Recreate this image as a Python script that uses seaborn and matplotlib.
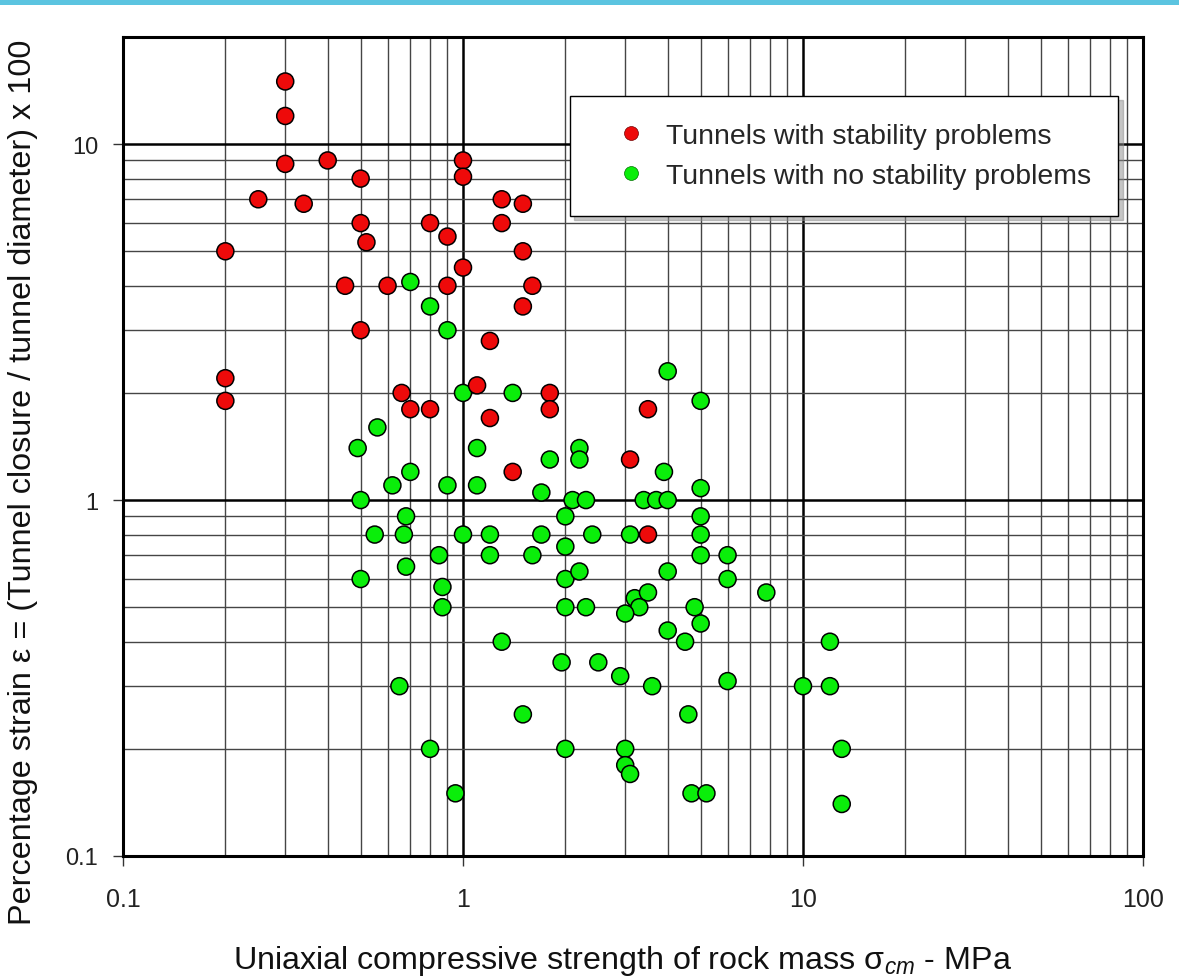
import numpy as np
import pandas as pd
import matplotlib
matplotlib.use("Agg")
import matplotlib.pyplot as plt
import seaborn as sns
from matplotlib.lines import Line2D
from matplotlib.patches import Rectangle
from matplotlib.ticker import LogLocator, NullFormatter, FixedLocator, FixedFormatter

# ---- data ----
red_x = [0.3, 0.3, 0.3, 0.4, 0.5, 1.0, 1.0, 0.25, 0.34, 1.3, 1.5, 0.5, 0.8, 1.3, 0.9,
         0.52, 0.2, 1.5, 1.0, 0.45, 0.6, 0.9, 1.6, 1.5, 0.5, 1.2, 0.2, 0.2, 0.66, 0.7,
         0.8, 1.1, 1.2, 1.8, 1.8, 1.4, 3.1, 3.5, 3.5]
red_y = [15, 12, 8.8, 9, 8, 9, 8.1, 7, 6.8, 7, 6.8, 6, 6, 6, 5.5,
         5.3, 5, 5, 4.5, 4, 4, 4, 4, 3.5, 3, 2.8, 2.2, 1.9, 2, 1.8,
         1.8, 2.1, 1.7, 2, 1.8, 1.2, 1.3, 1.8, 0.8]

green_x = [0.7, 0.8, 0.9, 1.0, 1.4, 0.56, 0.49, 1.1, 1.8, 2.2, 2.2, 0.7, 0.62, 0.9, 1.1,
           1.7, 0.5, 2.1, 0.68, 2.0, 0.55, 0.67, 1.0, 1.2, 1.7, 2.0, 0.85, 1.2, 1.6, 0.68,
           0.5, 2.0, 2.2, 0.87, 0.87, 2.0, 1.3, 1.95, 0.65, 1.5, 0.8, 2.0, 0.95,
           4.0, 5.0, 3.9, 5.0, 2.3, 3.4, 3.7, 4.0, 5.0, 2.4, 3.1, 5.0, 5.0, 6.0, 4.0,
           6.0, 7.8, 2.3, 3.2, 3.5, 3.3, 3.0, 4.8, 5.0, 4.0, 4.5, 12.0, 2.5, 2.9, 3.6,
           6.0, 10.0, 12.0, 4.6, 3.0, 3.0, 3.1, 4.7, 5.2, 13.0, 13.0]
green_y = [4.1, 3.5, 3.0, 2.0, 2.0, 1.6, 1.4, 1.4, 1.3, 1.4, 1.3, 1.2, 1.1, 1.1, 1.1,
           1.05, 1.0, 1.0, 0.9, 0.9, 0.8, 0.8, 0.8, 0.8, 0.8, 0.74, 0.7, 0.7, 0.7, 0.65,
           0.6, 0.6, 0.63, 0.57, 0.5, 0.5, 0.4, 0.35, 0.3, 0.25, 0.2, 0.2, 0.15,
           2.3, 1.9, 1.2, 1.08, 1.0, 1.0, 1.0, 1.0, 0.9, 0.8, 0.8, 0.8, 0.7, 0.7, 0.63,
           0.6, 0.55, 0.5, 0.53, 0.55, 0.5, 0.48, 0.5, 0.45, 0.43, 0.4, 0.4, 0.35, 0.32, 0.3,
           0.31, 0.3, 0.3, 0.25, 0.2, 0.18, 0.17, 0.15, 0.15, 0.2, 0.14]

label_red = "Tunnels with stability problems"
label_green = "Tunnels with no stability problems"
x_ticks = [0.1, 1, 10, 100]
x_ticklabels = ["0.1", "1", "10", "100"]
y_ticks = [0.1, 1, 10]
y_ticklabels = ["0.1", "1", "10"]

RED = "#EE0A0A"
GREEN = "#0AEE0A"

df = pd.DataFrame({
    "ucs": green_x + red_x,
    "strain": green_y + red_y,
    "group": [label_green] * len(green_x) + [label_red] * len(red_x),
})

sns.set_theme(style="white")
plt.rcParams["font.family"] = ["Liberation Sans", "DejaVu Sans"]
plt.rcParams["mathtext.fontset"] = "custom"
plt.rcParams["mathtext.rm"] = "Liberation Sans"
plt.rcParams["mathtext.it"] = "Liberation Sans:italic"

fig = plt.figure(figsize=(11.79, 9.79), dpi=100)
fig.patch.set_facecolor("white")
ax = fig.add_axes([123 / 1179, 1 - 857 / 979, (1143 - 123) / 1179, (857 - 38) / 979])

ax.set_xscale("log")
ax.set_yscale("log")
ax.set_xlim(0.1, 100)
ax.set_ylim(0.1, 20)

# grid
ax.xaxis.set_minor_locator(LogLocator(base=10, subs=np.arange(2, 10)))
ax.yaxis.set_minor_locator(LogLocator(base=10, subs=np.arange(2, 10)))
ax.grid(which="minor", color="#454545", linewidth=1.0, zorder=0)
ax.grid(which="major", color="black", linewidth=1.8, zorder=0)
ax.set_axisbelow(True)

sns.scatterplot(data=df, x="ucs", y="strain", hue="group",
                palette={label_red: RED, label_green: GREEN},
                s=150, edgecolor="black", linewidth=1.1, legend=False, ax=ax, zorder=3)

ax.xaxis.set_major_locator(FixedLocator(x_ticks))
ax.xaxis.set_major_formatter(FixedFormatter(x_ticklabels))
ax.yaxis.set_major_locator(FixedLocator(y_ticks))
ax.yaxis.set_major_formatter(FixedFormatter(y_ticklabels))
ax.xaxis.set_minor_formatter(NullFormatter())
ax.yaxis.set_minor_formatter(NullFormatter())

ax.tick_params(axis="both", which="major", direction="out", length=7, width=1.0,
               color="#333333", bottom=True, left=True)
ax.tick_params(axis="both", which="minor", length=0)
ax.tick_params(axis="x", which="major", pad=15, labelsize=18, labelcolor="#222222")
ax.tick_params(axis="y", which="major", pad=11, labelsize=17, labelcolor="#222222")

for sp in ax.spines.values():
    sp.set_color("black")
    sp.set_linewidth(2.2)

ax.set_xlabel("Uniaxial compressive strength of rock mass σ$_{\\mathit{cm}}$ - MPa",
              fontsize=23.2, color="#111111", labelpad=21)
ax.xaxis.set_label_coords((623 - 123) / 1020, -(961 - 857) / 819)
ax.xaxis.label.set_va("center")
ax.set_ylabel("Percentage strain ε = (Tunnel closure / tunnel diameter) x 100",
              fontsize=23.3, color="#111111")
ax.yaxis.set_label_coords((38 - 123) / 1020, (857 - 482) / 819)

handles = [
    Line2D([0], [0], marker="o", linestyle="none", markersize=10,
           markerfacecolor=RED, markeredgecolor="#700000", markeredgewidth=0.5),
    Line2D([0], [0], marker="o", linestyle="none", markersize=10,
           markerfacecolor=GREEN, markeredgecolor="#007000", markeredgewidth=0.5),
]
leg = ax.legend(handles, [label_red, label_green], loc="upper left",
                bbox_to_anchor=((570 - 123) / 1020, (857 - 97) / 819),
                fontsize=20.4, frameon=True, fancybox=False, framealpha=1,
                edgecolor="black", borderpad=0.95, labelspacing=0.5,
                handlelength=2.4, handletextpad=0.05, borderaxespad=0,
                shadow={"ox": 3, "oy": -3, "color": "0.55", "alpha": 0.5})
leg.get_frame().set_linewidth(1.0)
leg.set_zorder(5)

# top cyan band
fig.patches.append(Rectangle((0, 1 - 6 / 979), 1, 6 / 979, transform=fig.transFigure,
                             facecolor="#5BC4E0", edgecolor="none", zorder=10))

fig.savefig("out.png", dpi=100, facecolor="white")
